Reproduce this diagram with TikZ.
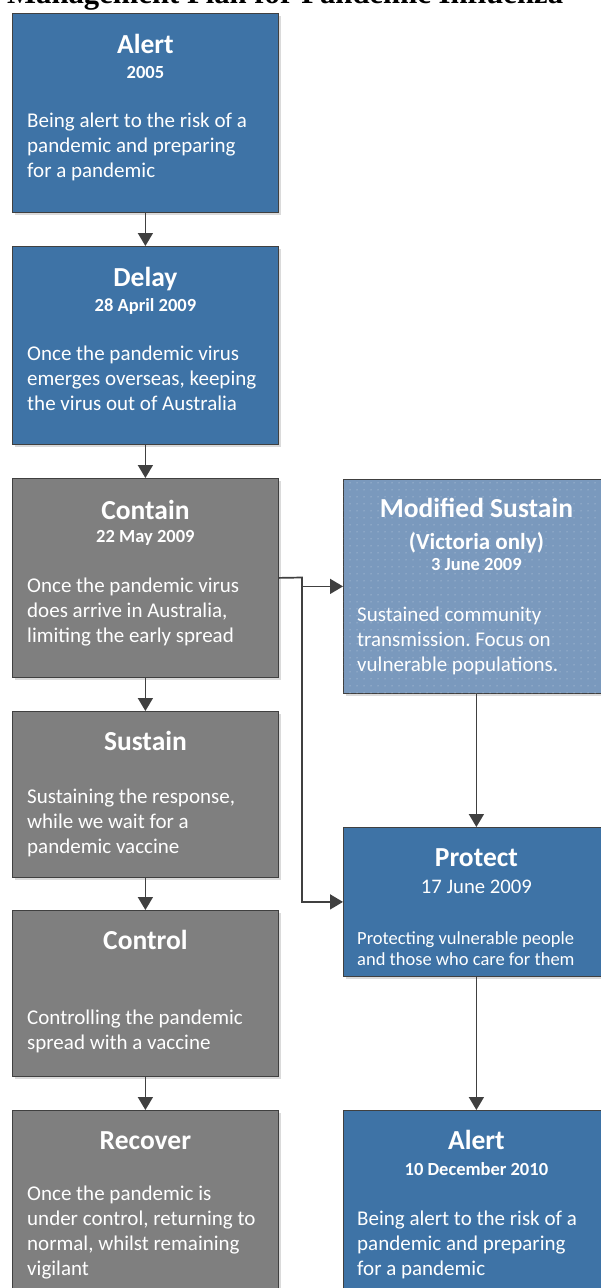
\documentclass[tikz,border=0pt]{standalone}
\usepackage{fontspec}
\setmainfont{Carlito}
\newfontfamily\plantitlefont{Liberation Serif}
\usepackage{tikz}
\usetikzlibrary{arrows.meta, positioning, shadows, patterns.meta}
\definecolor{phaseblue}{RGB}{62,115,166}
\definecolor{phasegrey}{RGB}{127,127,127}
\definecolor{vicblue}{RGB}{122,153,189}
\definecolor{edgegrey}{RGB}{64,64,64}
\definecolor{shadegrey}{RGB}{218,218,218}
\frenchspacing

\begin{document}
\begin{tikzpicture}[x=1pt,y=-1pt,
  phase/.style={draw=edgegrey, line width=0.8pt, minimum width=266pt, anchor=north west, inner sep=0pt,
    drop shadow={shadow xshift=3pt, shadow yshift=-3pt, fill=shadegrey, opacity=1}},
  bluephase/.style={phase, fill=phaseblue},
  greyphase/.style={phase, fill=phasegrey},
  vicphase/.style={phase, fill=vicblue, postaction={pattern={Dots[radius=0.5pt,distance=7pt]}, pattern color=white!60!vicblue}},
  phasetitle/.style={text=white, anchor=base, inner sep=0pt, font=\fontsize{27.5}{33}\selectfont\bfseries},
  phasedate/.style={text=white, anchor=base, inner sep=0pt, font=\fontsize{18.5}{22}\selectfont\bfseries},
  % base of a multi-line text is its last line
  phasetext/.style={text=white, anchor=base west, inner sep=0pt, align=left, font=\fontsize{21}{24.8}\selectfont},
  link/.style={draw=edgegrey, line width=1.7pt, -{Triangle[length=13pt,width=15pt]}}]

\useasboundingbox (0,0) rectangle (601,1288);
\clip (0,0) rectangle (601,1288);

\node[anchor=base west, inner sep=0pt, font=\plantitlefont\fontsize{30.7}{36}\selectfont\bfseries] (plan) at (7,3.5)
  {Management Plan for Pandemic Influenza};

% left column
\node[bluephase, minimum height=199pt] (alert) at (12,13) {};
\node[phasetitle] (alert-t) at ([yshift=-40pt]alert.north) {Alert};
\node[phasedate] (alert-y) at ([yshift=-65pt]alert.north) {2005};
\node[phasetext] (alert-x) at ([xshift=15pt,yshift=-164pt]alert.north west)
  {Being alert to the risk of a\\pandemic and preparing\\for a pandemic};

\node[bluephase, minimum height=198pt] (delay) at (12,246) {};
\node[phasetitle] (delay-t) at ([yshift=-40pt]delay.north) {Delay};
\node[phasedate] (delay-y) at ([yshift=-65pt]delay.north) {28 April 2009};
\node[phasetext] (delay-x) at ([xshift=15pt,yshift=-164pt]delay.north west)
  {Once the pandemic virus\\emerges overseas, keeping\\the virus out of Australia};

\node[greyphase, minimum height=199pt] (contain) at (12,478) {};
\node[phasetitle] (contain-t) at ([yshift=-41pt]contain.north) {Contain};
\node[phasedate] (contain-y) at ([yshift=-64pt]contain.north) {22 May 2009};
\node[phasetext] (contain-x) at ([xshift=15pt,yshift=-164pt]contain.north west)
  {Once the pandemic virus\\does arrive in Australia,\\limiting the early spread};

\node[greyphase, minimum height=166pt] (sustain) at (12,711) {};
\node[phasetitle] (sustain-t) at ([yshift=-39pt]sustain.north) {Sustain};
\node[phasetext] (sustain-x) at ([xshift=15pt,yshift=-142pt]sustain.north west)
  {Sustaining the response,\\while we wait for a\\pandemic vaccine};

\node[greyphase, minimum height=166pt] (control) at (12,910) {};
\node[phasetitle] (control-t) at ([yshift=-39pt]control.north) {Control};
\node[phasetext] (control-x) at ([xshift=15pt,yshift=-139.5pt]control.north west)
  {Controlling the pandemic\\spread with a vaccine};

\node[greyphase, minimum height=200pt] (recover) at (12,1110) {};
\node[phasetitle] (recover-t) at ([yshift=-39pt]recover.north) {Recover};
\node[phasetext] (recover-x) at ([xshift=15pt,yshift=-165pt]recover.north west)
  {Once the pandemic is\\under control, returning to\\normal, whilst remaining\\vigilant};

% right column
\node[vicphase, minimum height=214pt] (modsus) at (343,479) {};
\node[phasetitle] (modsus-t) at ([yshift=-38pt]modsus.north) {Modified Sustain};
\node[phasetitle, font=\fontsize{23}{27}\selectfont\bfseries] (modsus-v) at ([yshift=-70pt]modsus.north) {(Victoria only)};
\node[phasedate] (modsus-y) at ([yshift=-91pt]modsus.north) {3 June 2009};
\node[phasetext] (modsus-x) at ([xshift=14pt,yshift=-192.5pt]modsus.north west)
  {Sustained community\\transmission. Focus on\\vulnerable populations.};

\node[bluephase, minimum height=149pt] (protect) at (343,827) {};
\node[phasetitle] (protect-t) at ([yshift=-39pt]protect.north) {Protect};
\node[phasedate, font=\fontsize{20.7}{24}\selectfont] (protect-y) at ([yshift=-66pt]protect.north) {17 June 2009};
\node[phasetext, font=\fontsize{18.5}{21}\selectfont] (protect-x) at ([xshift=14pt,yshift=-138pt]protect.north west)
  {Protecting vulnerable people\\and those who care for them};

\node[bluephase, minimum height=200pt] (alert2) at (343,1110) {};
\node[phasetitle] (alert2-t) at ([yshift=-39pt]alert2.north) {Alert};
\node[phasedate] (alert2-y) at ([yshift=-65.5pt]alert2.north) {10 December 2010};
\node[phasetext] (alert2-x) at ([xshift=14pt,yshift=-165pt]alert2.north west)
  {Being alert to the risk of a\\pandemic and preparing\\for a pandemic};

% connectors
\draw[link] (alert) -- (delay);
\draw[link] (delay) -- (contain);
\draw[link] (contain) -- (sustain);
\draw[link] (sustain) -- (control);
\draw[link] (control) -- (recover);
\draw[link] (modsus) -- (protect);
\draw[link] (protect) -- (alert2);

\coordinate (split) at (302,577.5);
\draw[link] (contain.east) -- (split) |- (protect.west);
\draw[link] (split |- modsus.west) -- (modsus.west);

\end{tikzpicture}
\end{document}
